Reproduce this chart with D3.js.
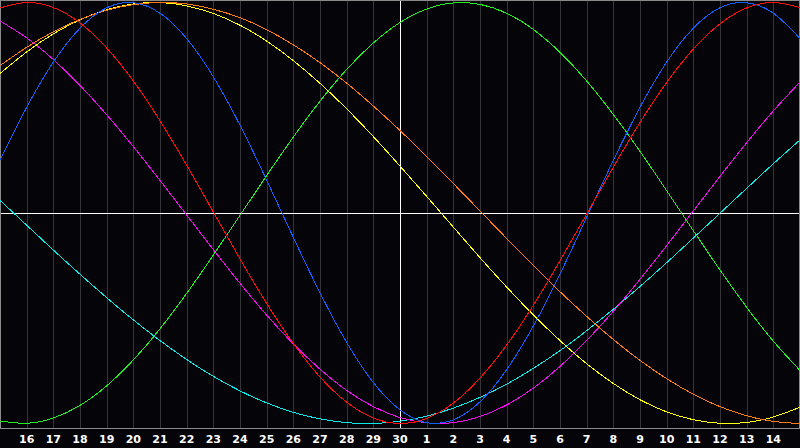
<!DOCTYPE html>
<html>
<head>
<meta charset="utf-8">
<script src="https://cdn.jsdelivr.net/npm/d3@7"></script>
<style>
  html, body { margin: 0; padding: 0; background: #050408; }
  svg { display: block; }
  .curve { fill: none; stroke-width: 1; shape-rendering: crispEdges; }
  .day-label { fill: #ffffff; font-family: "DejaVu Sans", sans-serif; font-weight: bold; font-size: 11px; }
</style>
</head>
<body>
<div id="chart"></div>
<script>
// day labels for each grid column (index 0 = left edge, 30 = right edge)
const dayLabels = [15, 16, 17, 18, 19, 20, 21, 22, 23, 24, 25, 26, 27, 28, 29, 30,
  1, 2, 3, 4, 5, 6, 7, 8, 9, 10, 11, 12, 13, 14, 15];
const todayIndex = 15;

// daily values (-1 .. 1)
const cyanValues = [0.060, -0.058, -0.176, -0.291, -0.402, -0.508, -0.606, -0.696, -0.776, -0.845,
  -0.902, -0.947, -0.978, -0.996, -1.000, -0.989, -0.965, -0.927, -0.876, -0.813,
  -0.738, -0.654, -0.559, -0.457, -0.349, -0.236, -0.119, -0.001, 0.117, 0.234, 0.347];
const magentaValues = [0.912, 0.832, 0.729, 0.606, 0.467, 0.315, 0.155, -0.010, -0.174, -0.334,
  -0.485, -0.622, -0.742, -0.843, -0.920, -0.972, -0.997, -0.996, -0.967, -0.912,
  -0.832, -0.729, -0.606, -0.467, -0.315, -0.155, 0.010, 0.174, 0.334, 0.485, 0.622];
const yellowValues = [0.663, 0.765, 0.851, 0.918, 0.966, 0.993, 1.000, 0.984, 0.948, 0.892,
  0.817, 0.724, 0.616, 0.495, 0.363, 0.223, 0.079, -0.067, -0.212, -0.352,
  -0.484, -0.606, -0.716, -0.810, -0.887, -0.945, -0.982, -0.999, -0.995, -0.969, -0.923];
const orangeValues = [0.700, 0.787, 0.861, 0.920, 0.963, 0.990, 1.000, 0.993, 0.968, 0.928,
  0.871, 0.799, 0.714, 0.617, 0.508, 0.392, 0.268, 0.140, 0.010, -0.121,
  -0.249, -0.374, -0.491, -0.601, -0.700, -0.787, -0.861, -0.920, -0.963, -0.990, -1.000];
const greenValues = [-0.988, -0.999, -0.974, -0.914, -0.821, -0.698, -0.550, -0.382, -0.200, -0.011,
  0.178, 0.361, 0.531, 0.682, 0.808, 0.905, 0.969, 0.998, 0.991, 0.949,
  0.872, 0.763, 0.627, 0.468, 0.293, 0.106, -0.084, -0.271, -0.448, -0.609, -0.748];
const blueValues = [0.250, 0.502, 0.717, 0.878, 0.975, 0.999, 0.949, 0.829, 0.647, 0.417,
  0.156, -0.116, -0.379, -0.615, -0.805, -0.935, -0.996, -0.983, -0.897, -0.744,
  -0.537, -0.290, -0.020, 0.250, 0.502, 0.717, 0.878, 0.975, 0.999, 0.949, 0.829];
const redValues = [0.974, 1.000, 0.976, 0.903, 0.784, 0.627, 0.438, 0.227, 0.005, -0.218,
  -0.430, -0.620, -0.779, -0.899, -0.974, -1.000, -0.976, -0.903, -0.784, -0.627,
  -0.438, -0.227, -0.005, 0.218, 0.430, 0.620, 0.779, 0.899, 0.974, 1.000, 0.976];

const series = [
  {name: 'cyan', color: '#10e8e8', values: cyanValues},
  {name: 'magenta', color: '#f010f0', values: magentaValues},
  {name: 'yellow', color: '#ffff10', values: yellowValues},
  {name: 'orange', color: '#ff7a10', values: orangeValues},
  {name: 'green', color: '#20f020', values: greenValues},
  {name: 'blue', color: '#1060ff', values: blueValues},
  {name: 'red', color: '#ff1010', values: redValues}
];

const width = 800, height = 448;
const plotBottom = 428;

const svg = d3.select('#chart').append('svg')
    .attr('width', width)
    .attr('height', height);

svg.append('rect')
    .attr('width', width)
    .attr('height', height)
    .attr('fill', '#050408');

const x = d3.scaleLinear().domain([0, 30]).range([0, 800]);
const y = d3.scaleLinear().domain([-1, 1]).range([423.5, 2.5]);

// vertical day grid
svg.append('g').selectAll('line')
    .data(d3.range(1, 30).filter(i => i !== todayIndex))
  .join('line')
    .attr('x1', i => Math.round(x(i)) + 0.5)
    .attr('x2', i => Math.round(x(i)) + 0.5)
    .attr('y1', 0)
    .attr('y2', plotBottom)
    .attr('stroke', '#353438')
    .attr('shape-rendering', 'crispEdges');

// frame
svg.append('rect')
    .attr('x', 0.5)
    .attr('y', 0.5)
    .attr('width', 799)
    .attr('height', plotBottom)
    .attr('fill', 'none')
    .attr('stroke', '#8a8a8a')
    .attr('shape-rendering', 'crispEdges');

// zero line and today line
svg.append('line')
    .attr('x1', 1).attr('x2', 799)
    .attr('y1', Math.floor(y(0)) + 0.5).attr('y2', Math.floor(y(0)) + 0.5)
    .attr('stroke', '#ffffff')
    .attr('shape-rendering', 'crispEdges');

svg.append('line')
    .attr('x1', Math.round(x(todayIndex)) + 0.5).attr('x2', Math.round(x(todayIndex)) + 0.5)
    .attr('y1', 1).attr('y2', plotBottom)
    .attr('stroke', '#ffffff')
    .attr('shape-rendering', 'crispEdges');

const line = d3.line()
    .x((d, i) => x(i))
    .y(d => y(d))
    .curve(d3.curveNatural);

svg.append('g').selectAll('path')
    .data(series)
  .join('path')
    .attr('class', 'curve')
    .attr('stroke', d => d.color)
    .attr('d', d => line(d.values));

// day labels under the grid
svg.append('g').selectAll('text')
    .data(d3.range(1, 30))
  .join('text')
    .attr('class', 'day-label')
    .attr('x', i => x(i))
    .attr('y', 443)
    .attr('text-anchor', 'middle')
    .text(i => dayLabels[i]);
</script>
</body>
</html>
